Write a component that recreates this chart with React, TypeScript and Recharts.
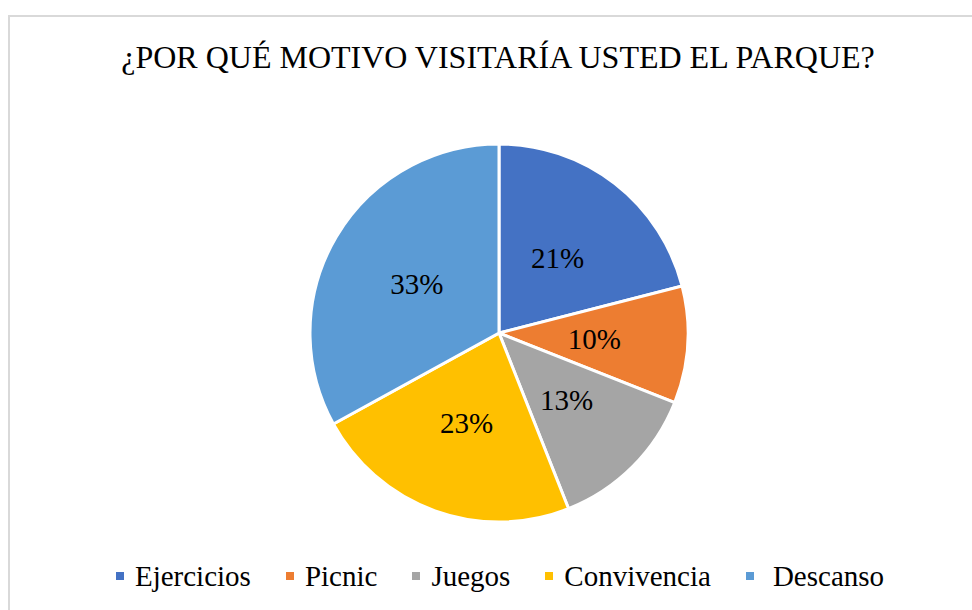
import { Cell, Legend, Pie, PieChart } from "recharts";

const reasons = ["Ejercicios", "Picnic", "Juegos", "Convivencia", "Descanso"];
const shares = [21, 10, 13, 23, 33];
const colors = ["#4472C4", "#ED7D31", "#A5A5A5", "#FFC000", "#5B9BD5"];

const data = reasons.map((name, i) => ({ name, value: shares[i] }));

const FONT = "'Liberation Serif', monospace";
const RAD = Math.PI / 180;

function renderLabel(props: any) {
  const { cx, cy, midAngle, outerRadius, value } = props;
  const r = outerRadius * 0.505;
  const x = cx + r * Math.cos(-midAngle * RAD);
  const y = cy + r * Math.sin(-midAngle * RAD);
  return (
    <text x={x} y={y} textAnchor="middle" dominantBaseline="central" style={{ fontFamily: FONT, fontSize: 29 }} fill="#000">
      {`${value}%`}
    </text>
  );
}

function LegendContent({ payload }: any) {
  const items = [...(payload || [])].sort((a: any, b: any) => reasons.indexOf(a.value) - reasons.indexOf(b.value));
  return (
    <div style={{ display: "flex", justifyContent: "center", alignItems: "center", fontFamily: FONT, fontSize: 29, lineHeight: "28px", color: "#000" }}>
      {items.map((entry: any, i: number) => (
        <div key={entry.value} style={{ display: "flex", alignItems: "center", marginLeft: i === 0 ? 0 : 35 }}>
          <span style={{ width: 8, height: 8, background: entry.color, display: "inline-block", marginRight: i === 4 ? 19 : 11 }} />
          <span style={{ fontFamily: FONT }}>{entry.value}</span>
        </div>
      ))}
    </div>
  );
}

export default function App() {
  return (
    <div style={{ position: "absolute", left: 0, top: 0, width: 972, height: 610, background: "#fff", overflow: "hidden" }}>
      <div style={{ position: "absolute", left: 8, top: 15, width: 990, height: 640, border: "2px solid #D9D9D9", boxSizing: "border-box" }} />
      <div style={{ position: "absolute", left: 0, top: 41, width: 996, textAlign: "center", fontFamily: FONT, fontSize: 32, lineHeight: "32px", color: "#000" }}>
        ¿POR QUÉ MOTIVO VISITARÍA USTED EL PARQUE?
      </div>
      <div style={{ position: "absolute", left: 0, top: 0 }}>
        <PieChart width={972} height={610} margin={{ top: 0, right: 0, bottom: 0, left: 0 }}>
          <Pie
            data={data}
            dataKey="value"
            nameKey="name"
            cx={499}
            cy={333}
            outerRadius={189}
            startAngle={90}
            endAngle={-270}
            stroke="#fff"
            strokeWidth={3}
            label={renderLabel}
            labelLine={false}
            isAnimationActive={false}
          >
            {data.map((d, i) => (
              <Cell key={d.name} fill={colors[i]} />
            ))}
          </Pie>
          <Legend content={<LegendContent />} wrapperStyle={{ position: "absolute", top: 562, left: 0, width: 1000 }} />
        </PieChart>
      </div>
    </div>
  );
}
